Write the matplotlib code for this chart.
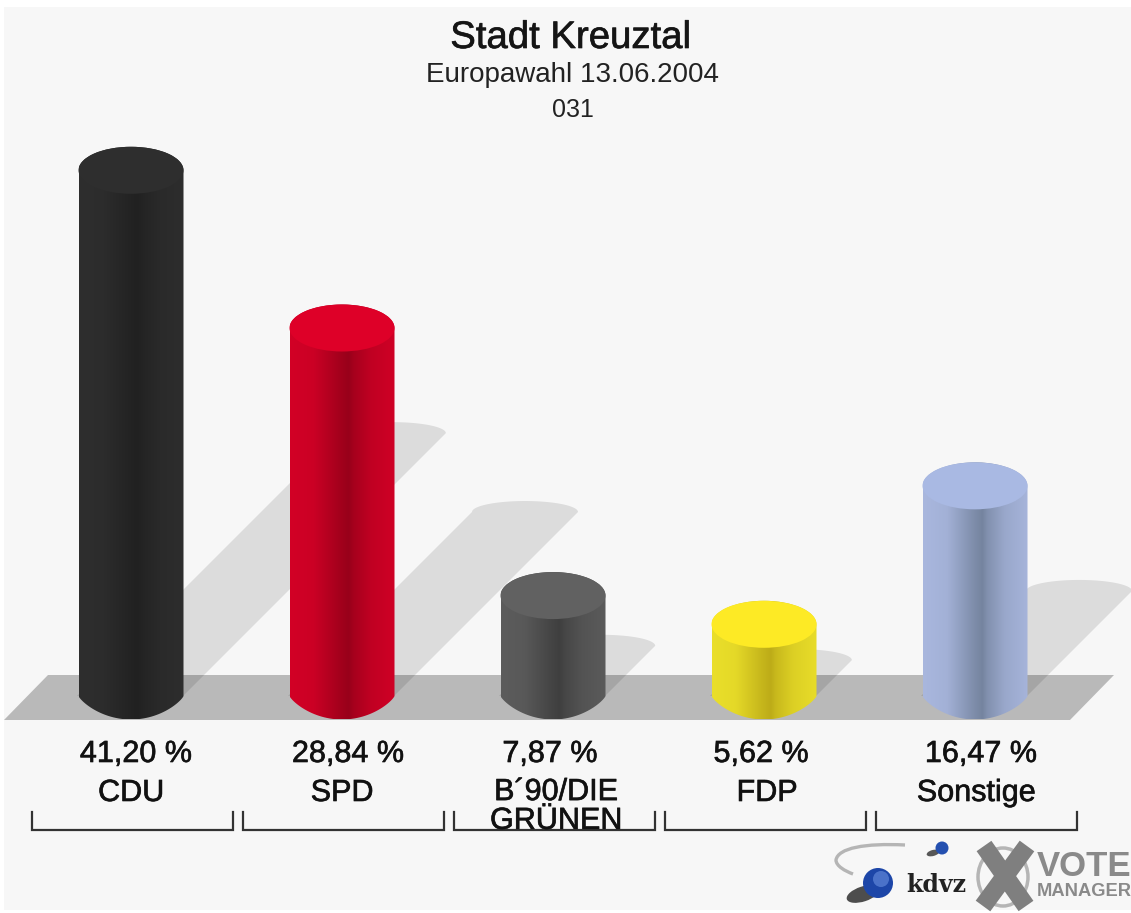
import numpy as np
import matplotlib
matplotlib.use("Agg")
import matplotlib.pyplot as plt
import matplotlib.patheffects as pe
from matplotlib.patches import Ellipse, PathPatch, Polygon, Rectangle, Circle
from matplotlib.path import Path
from matplotlib.colors import to_rgb

# ---- data ----
title = "Stadt Kreuztal"
subtitle = "Europawahl 13.06.2004"
district = "031"
parties = ["CDU", "SPD", "B´90/DIE\nGRÜNEN", "FDP", "Sonstige"]
values = [41.20, 28.84, 7.87, 5.62, 16.47]
value_labels = ["41,20 %", "28,84 %", "7,87 %", "5,62 %", "16,47 %"]
top_colors = ["#2e2e2e", "#de0028", "#616161", "#fdea25", "#a9b9e3"]
edge_colors = ["#2e2e2e", "#d20026", "#5c5c5c", "#eadf2a", "#a9b7de"]
dark_colors = ["#212121", "#98001a", "#3f3f3f", "#bdac18", "#75849f"]

# ---- layout (pixels of the 1131x913 canvas) ----
W, H = 1131, 913
X0, DX = 131.0, 211.0          # first bar centre and bar spacing
Y0, PX_PER_PCT = 696.0, 12.76  # zero line and scale
fig = plt.figure(figsize=(W / 100, H / 100), dpi=100, facecolor="white")
plt.rcParams["font.family"] = ["Liberation Sans", "DejaVu Sans"]

bg = fig.add_axes([0, 0, 1, 1], zorder=0)
ax = fig.add_axes([0, 0, 1, 1], zorder=1)
fg = fig.add_axes([0, 0, 1, 1], zorder=2)
for a in (bg, fg):
    a.set_xlim(0, W)
    a.set_ylim(H, 0)
    a.axis("off")
ax.axis("off")
ax.patch.set_alpha(0)
fg.patch.set_alpha(0)
xlim = ((0 - X0) / DX, (W - X0) / DX)
ylim = ((Y0 - H) / PX_PER_PCT, Y0 / PX_PER_PCT)
ax.set_xlim(*xlim)
ax.set_ylim(*ylim)

bg.add_patch(Rectangle((4, 7), W - 4, H - 10, fc="#f7f7f7", ec="none"))
bg.add_patch(Polygon([(4, 720), (1070, 720), (1114, 675), (48, 675)], fc="#b9b9b9", ec="none"))

half_w = 52.5 / DX
ell_h = 23.5 / PX_PER_PCT
sh_off, sh_w, sh_h = -1.0 / DX, 53.0 / DX, 11.0 / PX_PER_PCT
t_top = np.linspace(0, np.pi, 60)
t_bot = np.linspace(np.pi, 2 * np.pi, 60)

# shadows
for i, v in enumerate(values):
    rise = v / 2
    sx = rise * PX_PER_PCT / DX
    cx = i + sh_off + sx
    arc = np.column_stack([cx + sh_w * np.cos(t_top), rise + sh_h * np.sin(t_top)])
    pts = np.vstack([[[i + sh_off + sh_w, 0]], arc, [[i + sh_off - sh_w, 0]]])
    ax.add_patch(Polygon(pts, fc="black", alpha=0.105, ec="none", zorder=1))

# cylinders
stops = np.array([-1.0, -0.55, -0.05, 0.12, 0.22, 0.55, 1.0])
mix = np.array([0.0, 0.12, 0.80, 1.0, 0.75, 0.30, 0.05])
xs = np.linspace(-1, 1, 220)
for i, v in enumerate(values):
    u = np.cos(t_bot)
    bot = np.column_stack([i + half_w * u, -ell_h * (1 - u ** 2) ** 0.8])
    top = np.column_stack([i + half_w * np.cos(t_top), v + ell_h * np.sin(t_top)])
    verts = np.vstack([bot, top, bot[:1]])
    clip = Polygon(verts, closed=True, fc="none", ec="none", transform=ax.transData, zorder=2)
    ax.add_patch(clip)
    m = np.interp(xs, stops, mix)[None, :, None]
    c0, c1 = np.array(to_rgb(edge_colors[i])), np.array(to_rgb(dark_colors[i]))
    img = ax.imshow(c0 * (1 - m) + c1 * m, extent=(i - half_w, i + half_w, -ell_h, v + ell_h),
                    aspect="auto", interpolation="bilinear", zorder=3)
    img.set_clip_path(clip)
    ax.add_patch(Ellipse((i, v), 2 * half_w, 2 * ell_h, fc=top_colors[i], ec="none", zorder=4))
ax.set_xlim(*xlim)
ax.set_ylim(*ylim)

# titles
heavy = [pe.withStroke(linewidth=0.5, foreground="#222222")]
fg.text(571, 38, title, fontsize=27.6, ha="center", va="center", color="#151515", path_effects=heavy)
fg.text(572, 75, subtitle, fontsize=20, ha="center", va="center", color="#222222")
fg.text(573, 110, district, fontsize=18, ha="center", va="center", color="#222222")

# labels and brackets
value_dx = [5, 6, -3, -3, 6]
name_dx = [0, 0, 3, 3, 1]
for i, (name, lab) in enumerate(zip(parties, value_labels)):
    cx = X0 + DX * i
    fg.text(cx + value_dx[i], 754, lab, fontsize=22, ha="center", va="center", color="#111111", path_effects=heavy)
    n_lines = name.count("\n") + 1
    fg.text(cx + name_dx[i], 793 + 13.5 * (n_lines - 1), name, fontsize=22, ha="center", va="center",
            multialignment="center", linespacing=0.95, color="#111111", zorder=5, path_effects=heavy)
    left = cx - 99
    fg.plot([left, left, left + 201, left + 201], [812, 830, 830, 812], color="#333333", lw=1.6,
            solid_joinstyle="miter", zorder=4)

# logo
swoosh = Path([(905, 845), (865, 843), (838, 848), (836, 860), (836, 866), (845, 871), (853, 874)],
              [Path.MOVETO, Path.CURVE4, Path.CURVE4, Path.CURVE4, Path.CURVE4, Path.CURVE4, Path.CURVE4])
fg.add_patch(PathPatch(swoosh, fc="none", ec="#b5b5b5", lw=2.4))
fg.add_patch(Ellipse((863, 894), 34, 15, angle=-18, fc="#222222", ec="none", alpha=0.8))
fg.add_patch(Circle((878, 883), 15, fc="#1d46a8", ec="none"))
fg.add_patch(Circle((881, 879), 8, fc="#5f86d8", ec="none", alpha=0.7))
fg.add_patch(Ellipse((933, 853), 13, 6, angle=-15, fc="#222222", ec="none", alpha=0.75))
fg.add_patch(Circle((942, 848), 6.5, fc="#2450b0", ec="none"))
fg.text(936, 885, "kdvz", fontsize=17, family="DejaVu Serif", weight="bold", ha="center", va="center", color="#222222")
fg.add_patch(Ellipse((1003, 877), 50, 58, fc="none", ec="#b5b5b5", lw=2.5))
fg.plot([984, 1026], [846, 906], color="#7f7f7f", lw=13, solid_capstyle="butt")
fg.plot([1027, 983], [846, 906], color="#7f7f7f", lw=13, solid_capstyle="butt")
fg.text(1084, 866, "VOTE", fontsize=25, weight="bold", ha="center", va="center", color="#8a8a8a")
fg.text(1084, 891, "MANAGER", fontsize=13.2, weight="bold", ha="center", va="center", color="#8a8a8a")

fig.savefig("out.png", dpi=100)
